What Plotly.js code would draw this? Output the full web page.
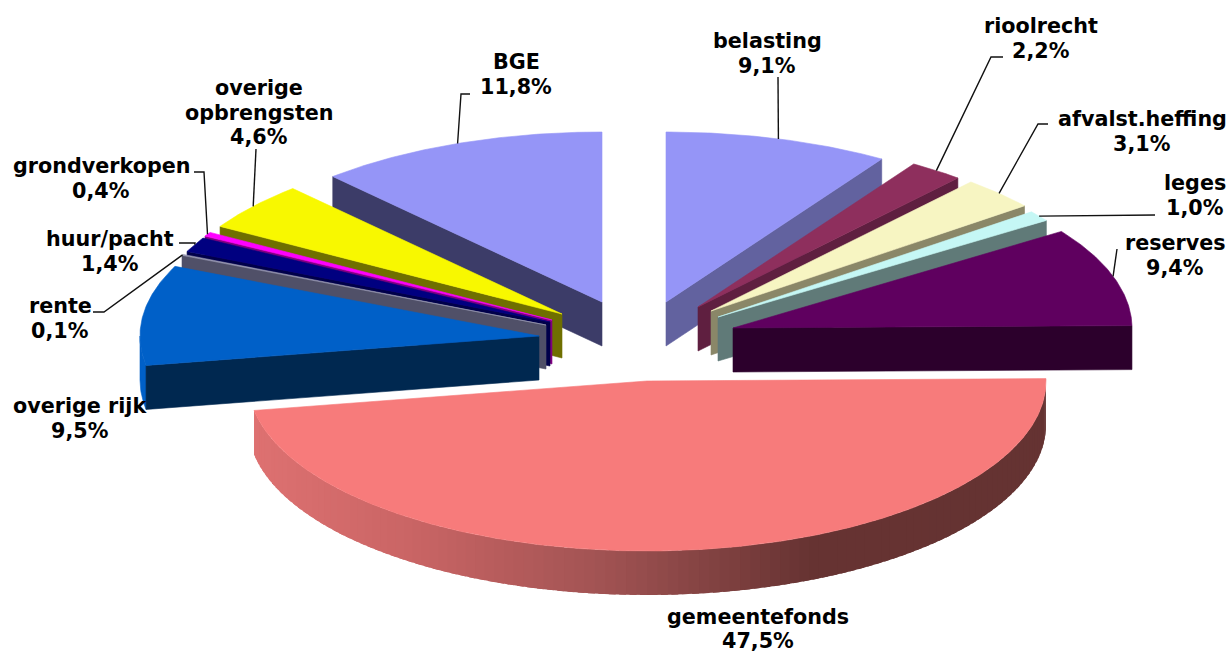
<!DOCTYPE html>
<html>
<head>
<meta charset="utf-8">
<script src="https://cdn.plot.ly/plotly-3.0.1.min.js"></script>
<style>html,body{margin:0;padding:0;background:#fff}#chart{width:1231px;height:652px}</style>
</head>
<body>
<div id="chart"></div>
<script>
// Income categories, clockwise from twelve o'clock
const categories = ['belasting', 'rioolrecht', 'afvalst.heffing', 'leges', 'reserves', 'gemeentefonds',
  'overige rijk', 'rente', 'huur/pacht', 'grondverkopen', 'overige\nopbrengsten', 'BGE'];
const shares = [9.1, 2.2, 3.1, 1.0, 9.4, 47.5, 9.5, 0.1, 1.4, 0.4, 4.6, 11.8];

// Slice styling
const topColors = ['#9595f7', '#8e2f5d', '#f7f5c2', '#c5f7f5', '#5f005f', '#f77b7b',
  '#0060c8', '#9a9ab4', '#000080', '#ff00ff', '#f8f800', '#9595f7'];
const sideColors = ['#62629f', '#5f1f40', '#8a8768', '#607a78', '#2c002c', '#653333',
  '#002850', '#505068', '#00004a', '#7f007f', '#6f6f00', '#3c3c68'];

// Apex of each pulled-out slice, in plot units
const apexX = [666, 698, 711, 718, 733, 647, 539, 546, 550, 552, 562, 602];
const apexY = [302, 307, 311, 317, 328, 381, 336, 325, 322, 320, 314, 302];
const drawOrder = [11, 0, 1, 2, 3, 4, 10, 9, 8, 7, 6, 5];

// Projected disc
const radiusX = 399, radiusY = 170, depth = 44;

// Label centres and the elbows of their leader lines
const labelX = [767, 1041, 1142, 1195, 1175, 758, 80, 60, 110, 101, 259, 516];
const labelY = [41, 26, 119, 183, 243, 616.5, 406, 306, 239, 166, 88, 62];
const linePitch = 24.5;
const leaderElbows = [
  [[778, 77]],
  [[1003, 57], [991, 57]],
  [[1048, 124], [1038, 124]],
  [[1155, 215]],
  [[1117, 249]],
  [],
  [],
  [[93, 312], [104, 312]],
  [[179, 243], [195, 243]],
  [[194, 172], [204, 172]],
  [[256, 149]],
  [[470, 94], [461, 94]]
];

const total = shares.reduce((a, b) => a + b, 0);
const rad = d => d * Math.PI / 180;
const rimX = (i, t) => apexX[i] + radiusX * Math.sin(rad(t));
const rimY = (i, t) => apexY[i] - radiusY * Math.cos(rad(t));

const startAngle = [], endAngle = [];
shares.reduce((acc, v, i) => {
  startAngle[i] = acc / total * 360;
  endAngle[i] = (acc + v) / total * 360;
  return acc + v;
}, 0);

function arc(i, a, b) {
  const n = Math.max(2, Math.ceil(Math.abs(b - a) / 0.5));
  const xs = [], ys = [];
  for (let k = 0; k <= n; k++) {
    const t = a + (b - a) * k / n;
    xs.push(rimX(i, t));
    ys.push(rimY(i, t));
  }
  return [xs, ys];
}

function polygon(xs, ys, color, lineWidth) {
  return {
    type: 'scatter', mode: 'lines', x: xs, y: ys, fill: 'toself', fillcolor: color,
    line: {color: color, width: lineWidth === undefined ? 0.6 : lineWidth},
    hoverinfo: 'skip', showlegend: false
  };
}

// Rim shading across the large slice runs from a warm left to a dark right
const shadeStops = [[253, [222, 113, 113]], [420, [200, 100, 100]], [607, [160, 82, 82]], [811, [102, 51, 50]], [1050, [101, 51, 50]]];
function shadeAt(x) {
  for (let k = 1; k < shadeStops.length; k++) {
    if (x <= shadeStops[k][0]) {
      const [x0, c0] = shadeStops[k - 1], [x1, c1] = shadeStops[k];
      const f = Math.max(0, (x - x0) / (x1 - x0));
      return 'rgb(' + c0.map((c, j) => Math.round(c + (c1[j] - c) * f)).join(',') + ')';
    }
  }
  return 'rgb(101,51,50)';
}

function rimBand(i, a, b, color, lineWidth) {
  const [xs, ys] = arc(i, a, b);
  return polygon(xs.concat(xs.slice().reverse()),
    ys.concat(ys.slice().reverse().map(y => y + depth)), color, lineWidth);
}

function cutFace(i, t) {
  const x = rimX(i, t), y = rimY(i, t), ax = apexX[i], ay = apexY[i];
  return polygon([ax, x, x, ax, ax], [ay, y, y + depth, ay + depth, ay], sideColors[i]);
}

const traces = [];
drawOrder.forEach(i => {
  const a = startAngle[i], b = endAngle[i];
  const front0 = Math.max(a, 90), front1 = Math.min(b, 270);
  if (front1 > front0) {
    if (categories[i] === 'gemeentefonds') {
      // Each band runs on under the next one so no seams show between them
      const step = 1.5;
      for (let t = front0; t < front1; t += step) {
        const next = Math.min(t + step + 1, front1);
        traces.push(rimBand(i, t, next, shadeAt(rimX(i, t + step / 2)), 0));
      }
    } else {
      traces.push(rimBand(i, front0, front1, topColors[i]));
    }
  }
  if (a > 180) traces.push(cutFace(i, a));
  if (b < 180) traces.push(cutFace(i, b));
  const [xs, ys] = arc(i, a, b);
  traces.push(polygon([apexX[i]].concat(xs, [apexX[i]]), [apexY[i]].concat(ys, [apexY[i]]), topColors[i]));
});

// Leader lines end on the rim at the middle of their slice
categories.forEach((c, i) => {
  if (!leaderElbows[i].length) return;
  const mid = (startAngle[i] + endAngle[i]) / 2;
  const pts = leaderElbows[i].concat([[rimX(i, mid), rimY(i, mid)]]);
  traces.push({
    type: 'scatter', mode: 'lines', x: pts.map(p => p[0]), y: pts.map(p => p[1]),
    line: {color: '#111', width: 1.4}, hoverinfo: 'skip', showlegend: false
  });
});

const annotations = [];
categories.forEach((c, i) => {
  const lines = c.split('\n').concat([shares[i].toFixed(1).replace('.', ',') + '%']);
  lines.forEach((text, k) => annotations.push({
    x: labelX[i], y: labelY[i] + k * linePitch, xref: 'x', yref: 'y', text: text,
    showarrow: false, xanchor: 'center', yanchor: 'middle',
    font: {family: 'DejaVu Sans', size: 20.7, color: '#000', weight: 700}
  }));
});

const hidden = {visible: false, fixedrange: true, showgrid: false, zeroline: false};
Plotly.newPlot('chart', traces, {
  width: 1231, height: 652,
  margin: {l: 0, r: 0, t: 0, b: 0},
  paper_bgcolor: '#fff', plot_bgcolor: '#fff',
  xaxis: Object.assign({range: [0, 1231]}, hidden),
  yaxis: Object.assign({range: [652, 0]}, hidden),
  annotations: annotations
}, {displayModeBar: false, staticPlot: true});
</script>
</body>
</html>
